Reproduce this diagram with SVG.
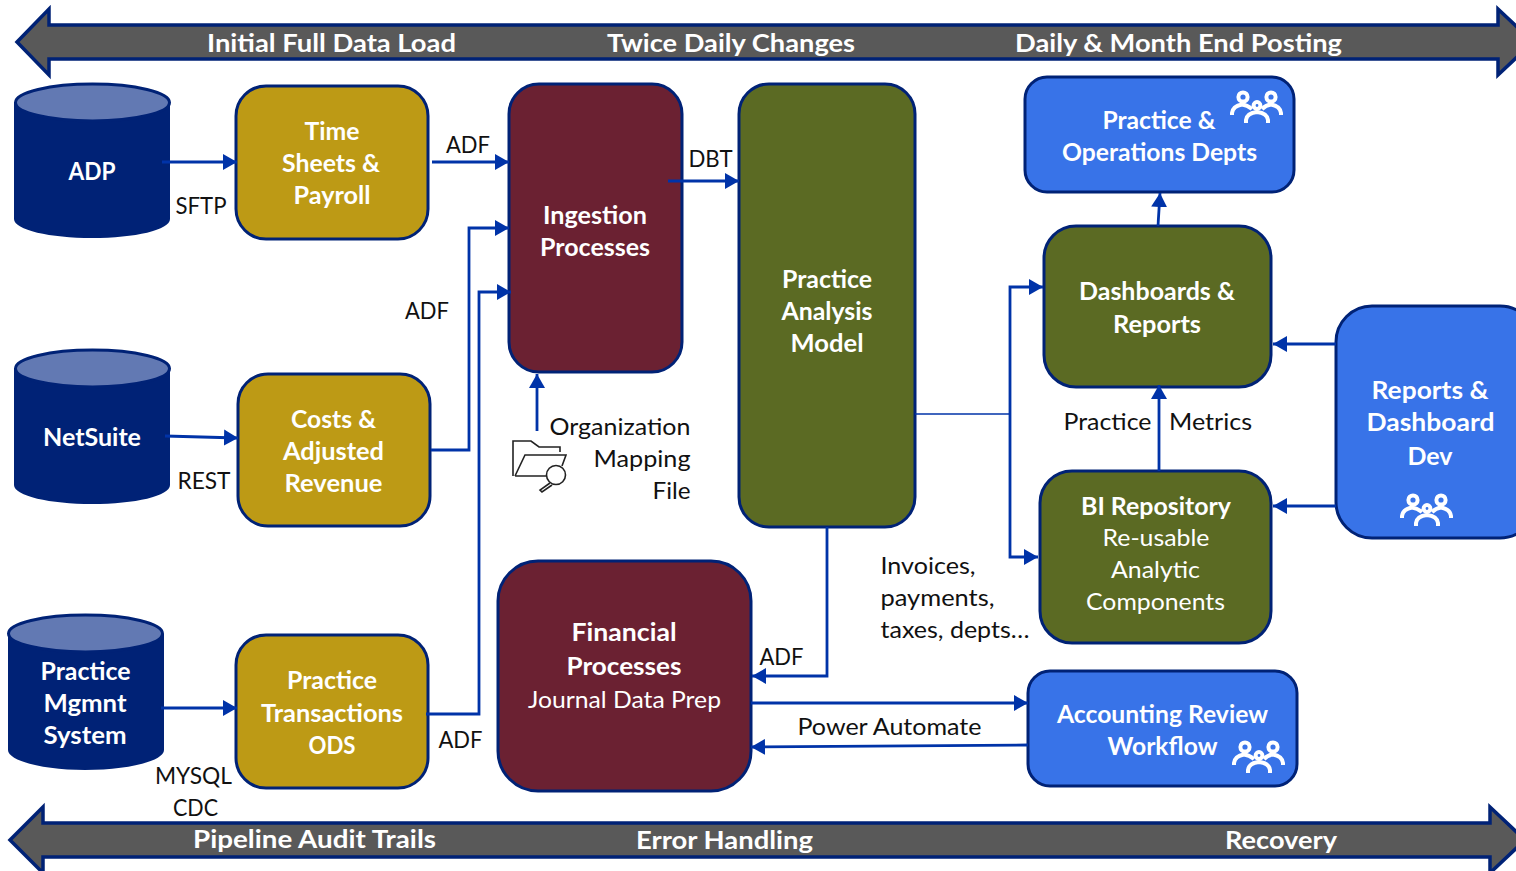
<svg xmlns="http://www.w3.org/2000/svg" xmlns:xlink="http://www.w3.org/1999/xlink" width="1516" height="871" viewBox="0 0 1516 871">
<style>
text{font-family:"Lato","Open Sans","Liberation Sans",sans-serif;font-size:24px;text-anchor:middle}
.w{fill:#fff;font-weight:700}
.r{fill:#fff;font-weight:400}
.k{fill:#111;font-weight:400}
.box{stroke:#002276;stroke-width:3}
.gold{fill:#bd9a15}.mar{fill:#6b2132}.oli{fill:#5b6a23}.blu{fill:#3873e8}
.band{fill:#595959;stroke:#002276;stroke-width:3.5}
.c{fill:none;stroke:#0033a8;stroke-width:2.8}
.thin{fill:none;stroke:#0033a8;stroke-width:1.4}
.body{fill:#002276}.lid{fill:#6279b3;stroke:#002276;stroke-width:3}
.ic{fill:none;stroke:#fff;stroke-width:4}
.fo{fill:none;stroke:#222;stroke-width:1.6}
</style>
<defs>
<marker id="a" markerUnits="userSpaceOnUse" markerWidth="16" markerHeight="18" refX="14" refY="9" orient="auto"><path d="M0,1L14,9L0,17Z" fill="#0033a8"/></marker>
<g id="people" class="ic">
<circle cx="13" cy="7" r="4.6"/><circle cx="41" cy="7" r="4.6"/><circle cx="27" cy="15.5" r="3.4"/>
<path d="M2,25V23Q3,16 12,14.5Q17,15 22,19"/><path d="M51,25V23Q50,16 41,14.5Q36,15 32,19"/>
<path d="M16,33V30Q17,23 27,22Q37,23 38,30V33"/>
</g>
</defs>
<g id="band-top">
<path class="band" d="M17,42L49,9V25H1498V9L1533,42L1498,75V59H49V75Z"/>
<text class="w" x="331.500" y="52" textLength="249" lengthAdjust="spacingAndGlyphs">Initial Full Data Load</text>
<text class="w" x="731" y="52" textLength="248" lengthAdjust="spacingAndGlyphs">Twice Daily Changes</text>
<text class="w" x="1178.500" y="52" textLength="327" lengthAdjust="spacingAndGlyphs">Daily &amp; Month End Posting</text>
</g>
<g id="band-bottom">
<path class="band" d="M10,840L43,807V823H1490V807L1525,840L1490,873V857H43V873Z"/>
<text class="w" x="314.500" y="848" textLength="243" lengthAdjust="spacingAndGlyphs">Pipeline Audit Trails</text>
<text class="w" x="724.500" y="849" textLength="177" lengthAdjust="spacingAndGlyphs">Error Handling</text>
<text class="w" x="1281" y="849" textLength="112" lengthAdjust="spacingAndGlyphs">Recovery</text>
</g>
<g id="node-adp">
<path class="body" d="M14,103V219C14,230 50,238 92,238C135,238 170,230 170,219V103Z"/>
<ellipse class="lid" cx="92.500" cy="102.500" rx="77" ry="18.500"/>
<text class="w" x="92" y="180" textLength="47" lengthAdjust="spacingAndGlyphs">ADP</text>
</g>
<g id="node-netsuite">
<path class="body" d="M14,369V485C14,496 50,504 92,504C135,504 170,496 170,485V369Z"/>
<ellipse class="lid" cx="92.500" cy="368.500" rx="77" ry="18.500"/>
<text class="w" x="92" y="446" textLength="98" lengthAdjust="spacingAndGlyphs">NetSuite</text>
</g>
<g id="node-practice-system">
<path class="body" d="M8,634V750C8,761 44,770 85,770C128,770 164,761 164,750V634Z"/>
<ellipse class="lid" cx="85.500" cy="633.500" rx="77" ry="18.500"/>
<text class="w" x="85.500" y="680" textLength="90" lengthAdjust="spacingAndGlyphs">Practice</text>
<text class="w" x="85" y="712" textLength="83" lengthAdjust="spacingAndGlyphs">Mgmnt</text>
<text class="w" x="85" y="744" textLength="83" lengthAdjust="spacingAndGlyphs">System</text>
</g>
<g id="node-time">
<rect class="box gold" x="236" y="86" width="192" height="153" rx="30"/>
<text class="w" x="332" y="140" textLength="55" lengthAdjust="spacingAndGlyphs">Time</text>
<text class="w" x="331" y="172" textLength="98" lengthAdjust="spacingAndGlyphs">Sheets &amp;</text>
<text class="w" x="332" y="204" textLength="77" lengthAdjust="spacingAndGlyphs">Payroll</text>
</g>
<g id="node-costs">
<rect class="box gold" x="238" y="374" width="192" height="152" rx="30"/>
<text class="w" x="333.500" y="428" textLength="85" lengthAdjust="spacingAndGlyphs">Costs &amp;</text>
<text class="w" x="333.500" y="460" textLength="101" lengthAdjust="spacingAndGlyphs">Adjusted</text>
<text class="w" x="333.500" y="492" textLength="98" lengthAdjust="spacingAndGlyphs">Revenue</text>
</g>
<g id="node-ods">
<rect class="box gold" x="236" y="635" width="192" height="153" rx="30"/>
<text class="w" x="332" y="689" textLength="90" lengthAdjust="spacingAndGlyphs">Practice</text>
<text class="w" x="332" y="722" textLength="142" lengthAdjust="spacingAndGlyphs">Transactions</text>
<text class="w" x="332" y="754" textLength="47" lengthAdjust="spacingAndGlyphs">ODS</text>
</g>
<g id="node-ingestion">
<rect class="box mar" x="509" y="84" width="173" height="288" rx="30"/>
<text class="w" x="595" y="224" textLength="104" lengthAdjust="spacingAndGlyphs">Ingestion</text>
<text class="w" x="595" y="256" textLength="110" lengthAdjust="spacingAndGlyphs">Processes</text>
</g>
<g id="node-model">
<rect class="box oli" x="739" y="84" width="176" height="443" rx="30"/>
<text class="w" x="827" y="288" textLength="90" lengthAdjust="spacingAndGlyphs">Practice</text>
<text class="w" x="827" y="320" textLength="91" lengthAdjust="spacingAndGlyphs">Analysis</text>
<text class="w" x="827" y="352" textLength="73" lengthAdjust="spacingAndGlyphs">Model</text>
</g>
<g id="node-financial">
<rect class="box mar" x="498" y="561" width="253" height="230" rx="40"/>
<text class="w" x="624" y="641" textLength="105" lengthAdjust="spacingAndGlyphs">Financial</text>
<text class="w" x="624" y="675" textLength="115" lengthAdjust="spacingAndGlyphs">Processes</text>
<text class="r" x="624.500" y="708" textLength="193" lengthAdjust="spacingAndGlyphs">Journal Data Prep</text>
</g>
<g id="node-operations">
<rect class="box blu" x="1025" y="77" width="269" height="115" rx="22"/>
<text class="w" x="1159" y="129" textLength="113" lengthAdjust="spacingAndGlyphs">Practice &amp;</text>
<text class="w" x="1159.500" y="161" textLength="195" lengthAdjust="spacingAndGlyphs">Operations Depts</text>
<use xlink:href="#people" href="#people" x="1230" y="90"/>
</g>
<g id="node-dashboards">
<rect class="box oli" x="1044" y="226" width="227" height="161" rx="32"/>
<text class="w" x="1157" y="300" textLength="156" lengthAdjust="spacingAndGlyphs">Dashboards &amp;</text>
<text class="w" x="1157" y="333" textLength="88" lengthAdjust="spacingAndGlyphs">Reports</text>
</g>
<g id="node-bi">
<rect class="box oli" x="1040" y="471" width="231" height="172" rx="32"/>
<text class="w" x="1156" y="515" textLength="150" lengthAdjust="spacingAndGlyphs">BI Repository</text>
<text class="r" x="1156" y="546" textLength="107" lengthAdjust="spacingAndGlyphs">Re-usable</text>
<text class="r" x="1155.500" y="578" textLength="89" lengthAdjust="spacingAndGlyphs">Analytic</text>
<text class="r" x="1155.500" y="610" textLength="139" lengthAdjust="spacingAndGlyphs">Components</text>
</g>
<g id="node-reports">
<rect class="box blu" x="1336" y="306" width="200" height="232" rx="36"/>
<text class="w" x="1430" y="399" textLength="117" lengthAdjust="spacingAndGlyphs">Reports &amp;</text>
<text class="w" x="1430.500" y="431" textLength="128" lengthAdjust="spacingAndGlyphs">Dashboard</text>
<text class="w" x="1430" y="465" textLength="45" lengthAdjust="spacingAndGlyphs">Dev</text>
<use xlink:href="#people" href="#people" x="1400" y="493"/>
</g>
<g id="node-accounting">
<rect class="box blu" x="1028" y="671" width="269" height="115" rx="22"/>
<text class="w" x="1162.500" y="723" textLength="211" lengthAdjust="spacingAndGlyphs">Accounting Review</text>
<text class="w" x="1162.500" y="755" textLength="110" lengthAdjust="spacingAndGlyphs">Workflow</text>
<use xlink:href="#people" href="#people" x="1232" y="740"/>
</g>
<g id="node-mapping-file">
<path class="fo" d="M513,476V441H531L539,447H560V452"/>
<path class="fo" d="M515,476L525,455H566L562,466M515,476H546"/>
<circle class="fo" cx="556" cy="475" r="9.500"/>
<path class="fo" d="M550,483L540,490L542,492L552,485"/>
<text class="k" x="620" y="435" textLength="141" lengthAdjust="spacingAndGlyphs">Organization</text>
<text class="k" x="642" y="467" textLength="97" lengthAdjust="spacingAndGlyphs">Mapping</text>
<text class="k" x="671.500" y="499" textLength="38" lengthAdjust="spacingAndGlyphs">File</text>
</g>
<g id="connectors">
<path class="c" marker-end="url(#a)" d="M162,162H237"/>
<path class="c" marker-end="url(#a)" d="M432,162H509"/>
<path class="c" marker-end="url(#a)" d="M431,450H469V228H509"/>
<path class="c" marker-end="url(#a)" d="M426,714H479V292H511"/>
<path class="c" marker-end="url(#a)" d="M165,436L238,438"/>
<path class="c" marker-end="url(#a)" d="M161,708H237"/>
<path class="c" marker-end="url(#a)" d="M668,181H739"/>
<path class="c" marker-end="url(#a)" d="M537,431V374"/>
<path class="thin" d="M915,414H1010"/>
<path class="c" marker-end="url(#a)" d="M1010,414V287H1043"/>
<path class="c" marker-end="url(#a)" d="M1010,414V557H1038"/>
<path class="c" marker-end="url(#a)" d="M827,527V676H752"/>
<path class="c" marker-end="url(#a)" d="M751,703H1028"/>
<path class="c" marker-end="url(#a)" d="M1028,745L751,747"/>
<path class="c" marker-end="url(#a)" d="M1159,471V385"/>
<path class="c" marker-end="url(#a)" d="M1158,226L1160,193"/>
<path class="c" marker-end="url(#a)" d="M1336,344H1273"/>
<path class="c" marker-end="url(#a)" d="M1336,506H1273"/>
</g>
<g id="labels">
<text class="k" x="201" y="214" textLength="51" lengthAdjust="spacingAndGlyphs">SFTP</text>
<text class="k" x="468" y="153" textLength="44" lengthAdjust="spacingAndGlyphs">ADF</text>
<text class="k" x="710.500" y="167" textLength="44" lengthAdjust="spacingAndGlyphs">DBT</text>
<text class="k" x="427" y="319" textLength="44" lengthAdjust="spacingAndGlyphs">ADF</text>
<text class="k" x="204" y="489" textLength="53" lengthAdjust="spacingAndGlyphs">REST</text>
<text class="k" x="460.500" y="748" textLength="44" lengthAdjust="spacingAndGlyphs">ADF</text>
<text class="k" x="193.500" y="784" textLength="77" lengthAdjust="spacingAndGlyphs">MYSQL</text>
<text class="k" x="195.500" y="816" textLength="45" lengthAdjust="spacingAndGlyphs">CDC</text>
<text class="k" x="781.500" y="665" textLength="44" lengthAdjust="spacingAndGlyphs">ADF</text>
<text class="k" x="889.500" y="735" textLength="184" lengthAdjust="spacingAndGlyphs">Power Automate</text>
<text class="k" x="928" y="574" textLength="95" lengthAdjust="spacingAndGlyphs">Invoices,</text>
<text class="k" x="937.500" y="606" textLength="114" lengthAdjust="spacingAndGlyphs">payments,</text>
<text class="k" x="955" y="638" textLength="149" lengthAdjust="spacingAndGlyphs">taxes, depts…</text>
<text class="k" x="1107.500" y="430" textLength="88" lengthAdjust="spacingAndGlyphs">Practice</text>
<text class="k" x="1210.500" y="430" textLength="83" lengthAdjust="spacingAndGlyphs">Metrics</text>
</g>
</svg>
